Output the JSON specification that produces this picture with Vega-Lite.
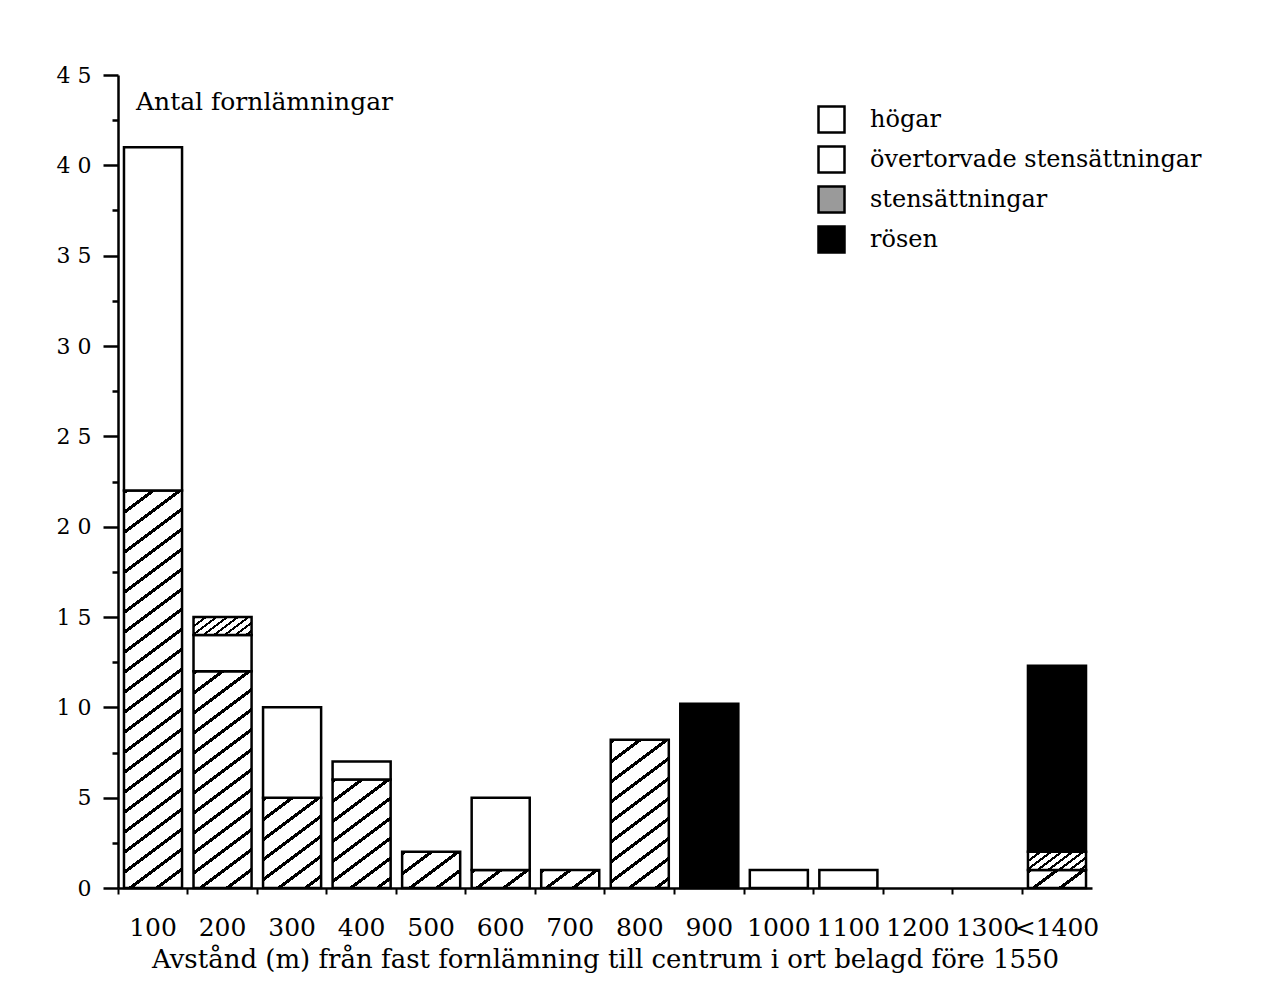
{
  "$schema": "https://vega.github.io/schema/vega-lite/v6.json",
  "width": 974,
  "height": 813,
  "autosize": {"type": "none"},
  "padding": {"left": 118, "top": 75, "right": 178, "bottom": 120},
  "background": "white",
  "config": {
    "view": {"stroke": null},
    "font": "DejaVu Serif",
    "axis": {"labelFont": "DejaVu Serif", "titleFont": "DejaVu Serif", "labelColor": "black", "titleColor": "black", "domainColor": "black", "tickColor": "black", "grid": false}
  },
  "params": [
    {"name": "hatchA", "value": [
      {"offset":0,"color":"#000"},{"offset":0.0067,"color":"#000"},{"offset":0.0067,"color":"#fff"},{"offset":0.0333,"color":"#fff"},
      {"offset":0.0333,"color":"#000"},{"offset":0.04,"color":"#000"},{"offset":0.04,"color":"#fff"},{"offset":0.0667,"color":"#fff"},
      {"offset":0.0667,"color":"#000"},{"offset":0.0733,"color":"#000"},{"offset":0.0733,"color":"#fff"},{"offset":0.1,"color":"#fff"},
      {"offset":0.1,"color":"#000"},{"offset":0.1067,"color":"#000"},{"offset":0.1067,"color":"#fff"},{"offset":0.1333,"color":"#fff"},
      {"offset":0.1333,"color":"#000"},{"offset":0.14,"color":"#000"},{"offset":0.14,"color":"#fff"},{"offset":0.1667,"color":"#fff"},
      {"offset":0.1667,"color":"#000"},{"offset":0.1733,"color":"#000"},{"offset":0.1733,"color":"#fff"},{"offset":0.2,"color":"#fff"},
      {"offset":0.2,"color":"#000"},{"offset":0.2067,"color":"#000"},{"offset":0.2067,"color":"#fff"},{"offset":0.2333,"color":"#fff"},
      {"offset":0.2333,"color":"#000"},{"offset":0.24,"color":"#000"},{"offset":0.24,"color":"#fff"},{"offset":0.2667,"color":"#fff"},
      {"offset":0.2667,"color":"#000"},{"offset":0.2733,"color":"#000"},{"offset":0.2733,"color":"#fff"},{"offset":0.3,"color":"#fff"},
      {"offset":0.3,"color":"#000"},{"offset":0.3067,"color":"#000"},{"offset":0.3067,"color":"#fff"},{"offset":0.3333,"color":"#fff"},
      {"offset":0.3333,"color":"#000"},{"offset":0.34,"color":"#000"},{"offset":0.34,"color":"#fff"},{"offset":0.3667,"color":"#fff"},
      {"offset":0.3667,"color":"#000"},{"offset":0.3733,"color":"#000"},{"offset":0.3733,"color":"#fff"},{"offset":0.4,"color":"#fff"},
      {"offset":0.4,"color":"#000"},{"offset":0.4067,"color":"#000"},{"offset":0.4067,"color":"#fff"},{"offset":0.4333,"color":"#fff"},
      {"offset":0.4333,"color":"#000"},{"offset":0.44,"color":"#000"},{"offset":0.44,"color":"#fff"},{"offset":0.4667,"color":"#fff"},
      {"offset":0.4667,"color":"#000"},{"offset":0.4733,"color":"#000"},{"offset":0.4733,"color":"#fff"},{"offset":0.5,"color":"#fff"},
      {"offset":0.5,"color":"#000"},{"offset":0.5067,"color":"#000"},{"offset":0.5067,"color":"#fff"},{"offset":0.5333,"color":"#fff"},
      {"offset":0.5333,"color":"#000"},{"offset":0.54,"color":"#000"},{"offset":0.54,"color":"#fff"},{"offset":0.5667,"color":"#fff"},
      {"offset":0.5667,"color":"#000"},{"offset":0.5733,"color":"#000"},{"offset":0.5733,"color":"#fff"},{"offset":0.6,"color":"#fff"},
      {"offset":0.6,"color":"#000"},{"offset":0.6067,"color":"#000"},{"offset":0.6067,"color":"#fff"},{"offset":0.6333,"color":"#fff"},
      {"offset":0.6333,"color":"#000"},{"offset":0.64,"color":"#000"},{"offset":0.64,"color":"#fff"},{"offset":0.6667,"color":"#fff"},
      {"offset":0.6667,"color":"#000"},{"offset":0.6733,"color":"#000"},{"offset":0.6733,"color":"#fff"},{"offset":0.7,"color":"#fff"},
      {"offset":0.7,"color":"#000"},{"offset":0.7067,"color":"#000"},{"offset":0.7067,"color":"#fff"},{"offset":0.7333,"color":"#fff"},
      {"offset":0.7333,"color":"#000"},{"offset":0.74,"color":"#000"},{"offset":0.74,"color":"#fff"},{"offset":0.7667,"color":"#fff"},
      {"offset":0.7667,"color":"#000"},{"offset":0.7733,"color":"#000"},{"offset":0.7733,"color":"#fff"},{"offset":0.8,"color":"#fff"},
      {"offset":0.8,"color":"#000"},{"offset":0.8067,"color":"#000"},{"offset":0.8067,"color":"#fff"},{"offset":0.8333,"color":"#fff"},
      {"offset":0.8333,"color":"#000"},{"offset":0.84,"color":"#000"},{"offset":0.84,"color":"#fff"},{"offset":0.8667,"color":"#fff"},
      {"offset":0.8667,"color":"#000"},{"offset":0.8733,"color":"#000"},{"offset":0.8733,"color":"#fff"},{"offset":0.9,"color":"#fff"},
      {"offset":0.9,"color":"#000"},{"offset":0.9067,"color":"#000"},{"offset":0.9067,"color":"#fff"},{"offset":0.9333,"color":"#fff"},
      {"offset":0.9333,"color":"#000"},{"offset":0.94,"color":"#000"},{"offset":0.94,"color":"#fff"},{"offset":0.9667,"color":"#fff"},
      {"offset":0.9667,"color":"#000"},{"offset":0.9733,"color":"#000"},{"offset":0.9733,"color":"#fff"},{"offset":1,"color":"#fff"}
    ]},
    {"name": "hatchB", "value": [
      {"offset":0,"color":"#000"},{"offset":0.0267,"color":"#000"},{"offset":0.0267,"color":"#fff"},{"offset":0.0833,"color":"#fff"},
      {"offset":0.0833,"color":"#000"},{"offset":0.11,"color":"#000"},{"offset":0.11,"color":"#fff"},{"offset":0.1667,"color":"#fff"},
      {"offset":0.1667,"color":"#000"},{"offset":0.1933,"color":"#000"},{"offset":0.1933,"color":"#fff"},{"offset":0.25,"color":"#fff"},
      {"offset":0.25,"color":"#000"},{"offset":0.2767,"color":"#000"},{"offset":0.2767,"color":"#fff"},{"offset":0.3333,"color":"#fff"},
      {"offset":0.3333,"color":"#000"},{"offset":0.36,"color":"#000"},{"offset":0.36,"color":"#fff"},{"offset":0.4167,"color":"#fff"},
      {"offset":0.4167,"color":"#000"},{"offset":0.4433,"color":"#000"},{"offset":0.4433,"color":"#fff"},{"offset":0.5,"color":"#fff"},
      {"offset":0.5,"color":"#000"},{"offset":0.5267,"color":"#000"},{"offset":0.5267,"color":"#fff"},{"offset":0.5833,"color":"#fff"},
      {"offset":0.5833,"color":"#000"},{"offset":0.61,"color":"#000"},{"offset":0.61,"color":"#fff"},{"offset":0.6667,"color":"#fff"},
      {"offset":0.6667,"color":"#000"},{"offset":0.6933,"color":"#000"},{"offset":0.6933,"color":"#fff"},{"offset":0.75,"color":"#fff"},
      {"offset":0.75,"color":"#000"},{"offset":0.7767,"color":"#000"},{"offset":0.7767,"color":"#fff"},{"offset":0.8333,"color":"#fff"},
      {"offset":0.8333,"color":"#000"},{"offset":0.86,"color":"#000"},{"offset":0.86,"color":"#fff"},{"offset":0.9167,"color":"#fff"},
      {"offset":0.9167,"color":"#000"},{"offset":0.9433,"color":"#000"},{"offset":0.9433,"color":"#fff"},{"offset":1,"color":"#fff"}
    ]}
  ],
  "resolve": {"axis": {"y": "independent"}},
  "layer": [
    {
      "data": {"values": [
        {"avstand": "100", "typ": "högar", "ordning": 1, "antal": 22},
        {"avstand": "100", "typ": "övertorvade stensättningar", "ordning": 2, "antal": 19},
        {"avstand": "200", "typ": "högar", "ordning": 1, "antal": 12},
        {"avstand": "200", "typ": "övertorvade stensättningar", "ordning": 2, "antal": 2},
        {"avstand": "200", "typ": "stensättningar", "ordning": 3, "antal": 1},
        {"avstand": "300", "typ": "högar", "ordning": 1, "antal": 5},
        {"avstand": "300", "typ": "övertorvade stensättningar", "ordning": 2, "antal": 5},
        {"avstand": "400", "typ": "högar", "ordning": 1, "antal": 6},
        {"avstand": "400", "typ": "övertorvade stensättningar", "ordning": 2, "antal": 1},
        {"avstand": "500", "typ": "högar", "ordning": 1, "antal": 2},
        {"avstand": "600", "typ": "högar", "ordning": 1, "antal": 1},
        {"avstand": "600", "typ": "övertorvade stensättningar", "ordning": 2, "antal": 4},
        {"avstand": "700", "typ": "högar", "ordning": 1, "antal": 1},
        {"avstand": "800", "typ": "högar", "ordning": 1, "antal": 8.2},
        {"avstand": "900", "typ": "rösen", "ordning": 4, "antal": 10.2},
        {"avstand": "1000", "typ": "övertorvade stensättningar", "ordning": 2, "antal": 1},
        {"avstand": "1100", "typ": "övertorvade stensättningar", "ordning": 2, "antal": 1},
        {"avstand": "<1400", "typ": "högar", "ordning": 1, "antal": 1},
        {"avstand": "<1400", "typ": "stensättningar", "ordning": 3, "antal": 1},
        {"avstand": "<1400", "typ": "rösen", "ordning": 4, "antal": 10.3}
      ]},
      "mark": {"type": "bar", "stroke": "black", "strokeWidth": 2.5},
      "encoding": {
        "x": {
          "field": "avstand", "type": "nominal",
          "scale": {"domain": ["100","200","300","400","500","600","700","800","900","1000","1100","1200","1300","<1400"], "paddingInner": 0.165, "paddingOuter": 0.086},
          "axis": {
            "title": "Avstånd (m) från fast fornlämning till centrum i ort belagd före 1550",
            "titleFontSize": 26, "titleFontWeight": "normal", "titlePadding": 6,
            "labelAngle": 0, "labelFontSize": 25, "labelPadding": 21,
            "tickSize": 6, "tickWidth": 2, "bandPosition": -0.099, "labelOffset": 0,
            "domainWidth": 2.5
          }
        },
        "y": {
          "field": "antal", "type": "quantitative",
          "scale": {"domain": [0, 45], "nice": false},
          "axis": {
            "title": null, "values": [0,5,10,15,20,25,30,35,40,45],
            "tickSize": 15, "tickWidth": 2.5, "domainWidth": 2.5,
            "labelFontSize": 22, "labelPadding": 12,
            "labelExpr": "length(datum.label) > 1 ? substring(datum.label, 0, 1) + ' ' + substring(datum.label, 1) : datum.label"
          }
        },
        "order": {"field": "ordning", "type": "quantitative", "sort": "ascending"},
        "fill": {
          "field": "typ", "type": "nominal",
          "scale": {"domain": ["högar", "övertorvade stensättningar", "stensättningar", "rösen"], "range": ["#ffffff", "#ffffff", "#9a9a9a", "#000000"]},
          "condition": {
            "test": "datum.typ === 'högar' || datum.typ === 'stensättningar'",
            "value": {"expr": "{gradient: 'linear', x1: 0, y1: 0, x2: 0.75 * bandwidth('x') * (datum.typ === 'högar' ? 600 : 96) / (0.5625 * bandwidth('x') * bandwidth('x') + pow(scale('y', datum.antal_start) - scale('y', datum.antal_end), 2)), y2: (scale('y', datum.antal_start) - scale('y', datum.antal_end)) * (datum.typ === 'högar' ? 600 : 96) / (0.5625 * bandwidth('x') * bandwidth('x') + pow(scale('y', datum.antal_start) - scale('y', datum.antal_end), 2)), stops: datum.typ === 'högar' ? hatchA : hatchB}"}
          },
          "legend": {
            "title": null, "orient": "none", "legendX": 699, "legendY": 30,
            "padding": 0, "symbolType": "square", "symbolSize": 676,
            "symbolStrokeColor": "black", "symbolStrokeWidth": 2.5,
            "labelFont": "DejaVu Serif", "labelFontSize": 24, "labelColor": "black",
            "labelOffset": 24, "rowPadding": 3, "labelLimit": 600,
            "encode": {"symbols": {"update": {
              "stroke": {"value": "black"},
              "strokeWidth": {"value": 2.5},
              "opacity": {"value": 1}
            }}}
          }
        }
      }
    },
    {
      "data": {"values": [{"rubrik": "Antal fornlämningar", "avstand": "100", "antal": 43.5}]},
      "mark": {"type": "text", "align": "left", "baseline": "middle", "dx": 12, "fontSize": 25, "font": "DejaVu Serif", "color": "black"},
      "encoding": {
        "x": {"field": "avstand", "type": "nominal", "bandPosition": 0,
              "scale": {"domain": ["100","200","300","400","500","600","700","800","900","1000","1100","1200","1300","<1400"], "paddingInner": 0.165, "paddingOuter": 0.086}},
        "y": {"field": "antal", "type": "quantitative",
              "scale": {"domain": [0, 45], "nice": false},
              "axis": {"orient": "left", "title": null, "labels": false, "domain": false, "values": [2.5,7.5,12.5,17.5,22.5,27.5,32.5,37.5,42.5], "tickSize": 6, "tickWidth": 2.5}},
        "text": {"field": "rubrik"}
      }
    }
  ]
}
